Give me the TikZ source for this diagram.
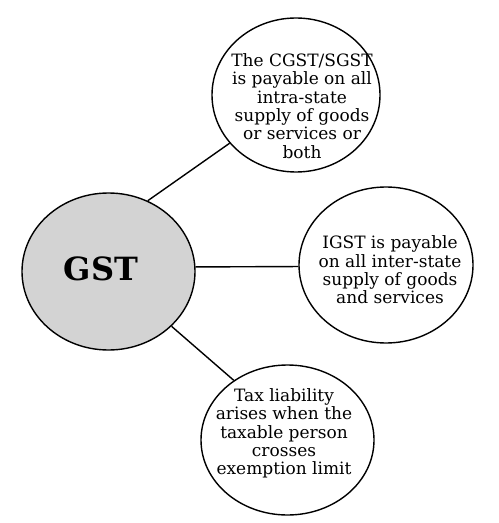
\documentclass[tikz,border=0pt]{standalone}
\usepackage{fontspec}
\setmainfont{DejaVu Serif}
\usetikzlibrary{shapes.geometric}
\definecolor{gstgray}{RGB}{211,211,211}
\begin{document}
\begin{tikzpicture}[x=0.5pt, y=-0.5pt, line width=0.7pt,
        bubble/.style={draw, ellipse, inner sep=0pt},
        bubbletext/.style={align=center, inner sep=0pt, font=\fontsize{8.5}{9.2}\selectfont}]
    \useasboundingbox (0,0) rectangle (498,523);
    % the four ellipses
    \node[bubble, fill=gstgray, minimum width=86.5pt, minimum height=78.5pt] (gst) at (108.5,271.5) {};
    \node[bubble, minimum width=84pt, minimum height=77pt] (cgst) at (296,95) {};
    \node[bubble, minimum width=87pt, minimum height=78pt] (igst) at (386,265) {};
    \node[bubble, minimum width=86.5pt, minimum height=75pt] (liab) at (287.5,440) {};
    % their texts
    \node[inner sep=0pt, font=\fontsize{16}{19}\selectfont\bfseries] (gst-txt) at (101,269) {GST};
    \node[bubbletext] (cgst-txt) at (302,106)
        {The CGST/SGST\\is payable on all\\intra-state\\supply of goods\\or services or\\both};
    \node[bubbletext] (igst-txt) at (390,270)
        {IGST is payable\\on all inter-state\\supply of goods\\and services};
    \node[bubbletext] (liab-txt) at (284,433.5)
        {Tax liability\\arises when the\\taxable person\\crosses\\exemption limit};
    % connectors
    \draw (gst.61) -- (cgst.216);
    \draw (gst.3) -- (igst.181.5);
    \draw (gst.-41) -- (liab.132);
\end{tikzpicture}
\end{document}
